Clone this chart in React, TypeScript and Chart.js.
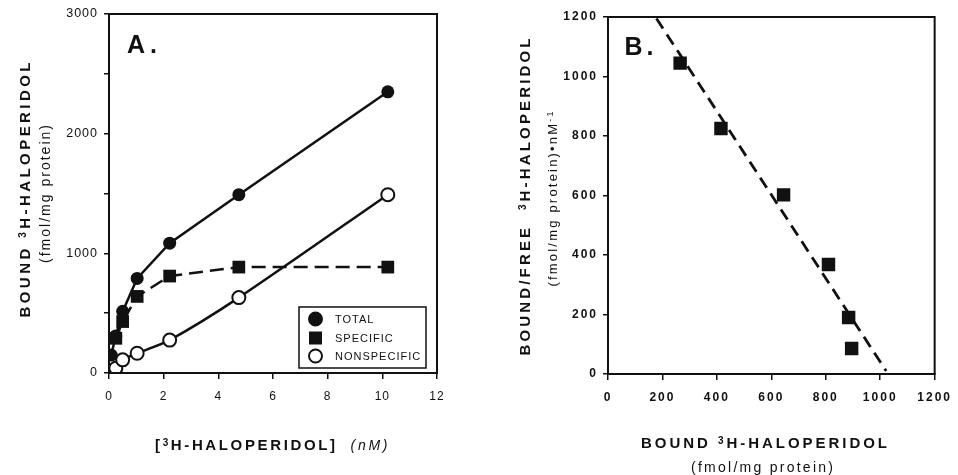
import React, { useEffect, useRef } from 'react';
import { Chart, registerables } from 'chart.js';

Chart.register(...registerables);

// ---------- Panel A data: saturation binding ----------
const concentrationNM = [0.08, 0.25, 0.5, 1.03, 2.22, 4.75, 10.2];
const totalBound = [150, 310, 515, 790, 1085, 1490, 2350];
const specificBound: (number | null)[] = [null, 290, 430, 640, 810, 885, 885];
const nonspecificBound = [100, 40, 110, 165, 275, 630, 1490];
const legendLabels = ['TOTAL', 'SPECIFIC', 'NONSPECIFIC'];

// ---------- Panel B data: Scatchard plot ----------
const scatchardBound = [265, 415, 645, 810, 884, 895];
const scatchardRatio = [1045, 825, 602, 368, 190, 86];
const fitBound = [178, 1022];
const fitRatio = [1195, 10];

const INK = '#111';
const FONT = '"Liberation Sans", Arial, Helvetica, sans-serif';

type Part = { t: string; sup?: boolean };
type TextItem = { parts: Part[]; size: number; weight?: string; style?: string; cx: number; cy: number; len: number; angle?: number };

function drawRich(ctx: CanvasRenderingContext2D, item: TextItem) {
  const { parts, size, cx, cy, len } = item;
  const weight = item.weight || 'normal';
  const style = item.style || 'normal';
  ctx.save();
  (ctx as any).letterSpacing = '0px';
  const fontFor = (sup?: boolean) => `${style} ${weight} ${sup ? Math.round(size * 0.68) : size}px ${FONT}`;
  const chars: { ch: string; w: number; sup?: boolean }[] = [];
  let natural = 0;
  parts.forEach((p) => {
    ctx.font = fontFor(p.sup);
    Array.from(p.t).forEach((ch) => {
      const w = ctx.measureText(ch).width;
      chars.push({ ch, w, sup: p.sup });
      natural += w;
    });
  });
  const n = chars.length;
  const ls = n > 1 ? (len - natural) / (n - 1) : 0;
  ctx.translate(cx, cy);
  ctx.rotate(item.angle || 0);
  ctx.textAlign = 'left';
  ctx.textBaseline = 'alphabetic';
  ctx.fillStyle = INK;
  let x = -len / 2;
  const base = size * 0.36;
  chars.forEach((c) => {
    ctx.font = fontFor(c.sup);
    ctx.fillText(c.ch, x, c.sup ? base - size * 0.3 : base);
    x += c.w + ls;
  });
  ctx.restore();
}

function makeDecor(id: string, tickSpacing: number, texts: TextItem[], extra?: (ctx: CanvasRenderingContext2D) => void) {
  return {
    id,
    beforeDraw(chart: any) {
      chart.ctx.letterSpacing = tickSpacing + 'px';
    },
    afterDraw(chart: any) {
      const ctx: CanvasRenderingContext2D = chart.ctx;
      (ctx as any).letterSpacing = '0px';
      const a = chart.chartArea;
      ctx.save();
      ctx.strokeStyle = INK;
      ctx.lineWidth = 2;
      ctx.strokeRect(a.left, a.top, a.right - a.left, a.bottom - a.top);
      ctx.restore();
      texts.forEach((t) => drawRich(ctx, t));
      if (extra) extra(ctx);
    },
  };
}

function axisOpts(min: number, max: number, step: number, fontSize: number, weight: string, pad: number, tickLen: number, fit: (s: any) => void, cb?: (v: number) => string) {
  return {
    type: 'linear' as const,
    min,
    max,
    afterFit: fit,
    ticks: {
      stepSize: step,
      color: INK,
      padding: pad,
      font: { family: FONT, size: fontSize, weight },
      callback: cb || ((v: any) => String(v)),
    },
    grid: { display: true, drawOnChartArea: false, drawTicks: true, tickLength: tickLen, color: INK, lineWidth: 1.5 },
    border: { display: true, color: INK, width: 2 },
  };
}

export default function App() {
  const refA = useRef<HTMLCanvasElement>(null);
  const refB = useRef<HTMLCanvasElement>(null);

  useEffect(() => {
    const legendExtra = (ctx: CanvasRenderingContext2D) => {
      ctx.save();
      ctx.strokeStyle = INK;
      ctx.lineWidth = 1.5;
      ctx.fillStyle = '#fff';
      ctx.fillRect(299, 307, 127, 61);
      ctx.strokeRect(299, 307, 127, 61);
      const ys = [319, 338, 356];
      ys.forEach((y, i) => {
        ctx.beginPath();
        if (i === 1) {
          ctx.fillStyle = INK;
          ctx.fillRect(309, y - 6.5, 13, 13);
        } else {
          ctx.arc(315.5, y, 6.5, 0, Math.PI * 2);
          ctx.fillStyle = i === 0 ? INK : '#fff';
          ctx.fill();
          ctx.lineWidth = 2;
          ctx.stroke();
        }
        ctx.fillStyle = INK;
        ctx.font = `11px ${FONT}`;
        (ctx as any).letterSpacing = '1px';
        ctx.textBaseline = 'middle';
        ctx.textAlign = 'left';
        ctx.fillText(legendLabels[i], 335, y + 0.5);
      });
      ctx.restore();
    };

    const up = -Math.PI / 2;
    const decorA = makeDecor(
      'decorA',
      1,
      [
        { parts: [{ t: 'A.' }], size: 25, weight: 'bold', cx: 142, cy: 44, len: 30 },
        { parts: [{ t: 'BOUND ' }, { t: '3', sup: true }, { t: 'H-HALOPERIDOL' }], size: 15, weight: 'bold', cx: 25, cy: 190, len: 255, angle: up },
        { parts: [{ t: '(fmol/mg protein)' }], size: 14, cx: 45, cy: 194, len: 138, angle: up },
        { parts: [{ t: '[' }, { t: '3', sup: true }, { t: 'H-HALOPERIDOL]' }], size: 15, weight: 'bold', cx: 245, cy: 445, len: 180 },
        { parts: [{ t: '(nM)' }], size: 14, style: 'italic', cx: 369, cy: 445, len: 37 },
      ],
      legendExtra
    );

    const chartA = new Chart(refA.current!, {
      type: 'line',
      data: {
        datasets: [
          {
            label: legendLabels[0],
            data: concentrationNM.map((x, i) => ({ x, y: totalBound[i] })),
            borderColor: INK,
            borderWidth: 2.5,
            pointStyle: 'circle',
            pointRadius: 6.5,
            pointBackgroundColor: INK,
            pointBorderColor: INK,
            pointBorderWidth: 0,
            tension: 0,
          },
          {
            label: legendLabels[1],
            data: concentrationNM.map((x, i) => ({ x, y: specificBound[i] })),
            borderColor: INK,
            borderWidth: 2.5,
            borderDash: [14, 7],
            pointStyle: 'rect',
            pointRadius: 9,
            pointBackgroundColor: INK,
            pointBorderColor: INK,
            pointBorderWidth: 0,
            tension: 0,
          },
          {
            label: legendLabels[2],
            data: concentrationNM.map((x, i) => ({ x, y: nonspecificBound[i] })),
            borderColor: INK,
            borderWidth: 2.5,
            pointStyle: 'circle',
            pointRadius: 6.5,
            pointBackgroundColor: '#fff',
            pointBorderColor: INK,
            pointBorderWidth: 2,
            tension: 0.25,
          },
        ],
      } as any,
      options: {
        animation: false,
        responsive: false,
        layout: { padding: { left: 0, right: 42, top: 14, bottom: 0 } },
        plugins: { legend: { display: false }, tooltip: { enabled: false } },
        scales: {
          x: axisOpts(0, 12, 2, 12, 'normal', 10, 6, (s: any) => { s.height = 102; }),
          y: axisOpts(0, 3000, 500, 12.5, 'normal', 6, 5, (s: any) => { s.width = 109; }, (v: number) => (v % 1000 === 0 ? String(v) : '')),
        },
      } as any,
      plugins: [decorA],
    });

    const decorB = makeDecor('decorB', 2, [
      { parts: [{ t: 'B.' }], size: 25, weight: 'bold', cx: 160, cy: 46, len: 29 },
      { parts: [{ t: 'BOUND/FREE  ' }, { t: '3', sup: true }, { t: 'H-HALOPERIDOL' }], size: 15, weight: 'bold', cx: 46, cy: 197, len: 317, angle: up },
      { parts: [{ t: '(fmol/mg protein)•nM' }, { t: '-1', sup: true }], size: 13, cx: 73, cy: 199, len: 175, angle: up },
      { parts: [{ t: 'BOUND ' }, { t: '3', sup: true }, { t: 'H-HALOPERIDOL' }], size: 15, weight: 'bold', cx: 285, cy: 443, len: 246 },
      { parts: [{ t: '(fmol/mg protein)' }], size: 14, cx: 283, cy: 467, len: 142 },
    ]);

    const chartB = new Chart(refB.current!, {
      type: 'line',
      data: {
        datasets: [
          {
            label: 'Scatchard',
            data: scatchardBound.map((x, i) => ({ x, y: scatchardRatio[i] })),
            showLine: false,
            pointStyle: 'rect',
            pointRadius: 9.5,
            pointBackgroundColor: INK,
            pointBorderColor: INK,
            pointBorderWidth: 0,
          },
          {
            label: 'Fit',
            data: fitBound.map((x, i) => ({ x, y: fitRatio[i] })),
            borderColor: INK,
            borderWidth: 2.8,
            borderDash: [12, 7],
            pointRadius: 0,
            tension: 0,
          },
        ],
      } as any,
      options: {
        animation: false,
        responsive: false,
        layout: { padding: { left: 0, right: 22, top: 17, bottom: 0 } },
        plugins: { legend: { display: false }, tooltip: { enabled: false } },
        scales: {
          x: axisOpts(0, 1200, 200, 12, 'bold', 10, 6, (s: any) => { s.height = 101; }),
          y: axisOpts(0, 1200, 200, 12, 'bold', 5, 5, (s: any) => { s.width = 129; }),
        },
      } as any,
      plugins: [decorB],
    });

    return () => {
      chartA.destroy();
      chartB.destroy();
    };
  }, []);

  return (
    <div style={{ position: 'absolute', left: 0, top: 0, width: 958, height: 475, background: '#fff' }}>
      <canvas ref={refA} width={479} height={475} style={{ position: 'absolute', left: 0, top: 0 }} />
      <canvas ref={refB} width={479} height={475} style={{ position: 'absolute', left: 479, top: 0 }} />
    </div>
  );
}
